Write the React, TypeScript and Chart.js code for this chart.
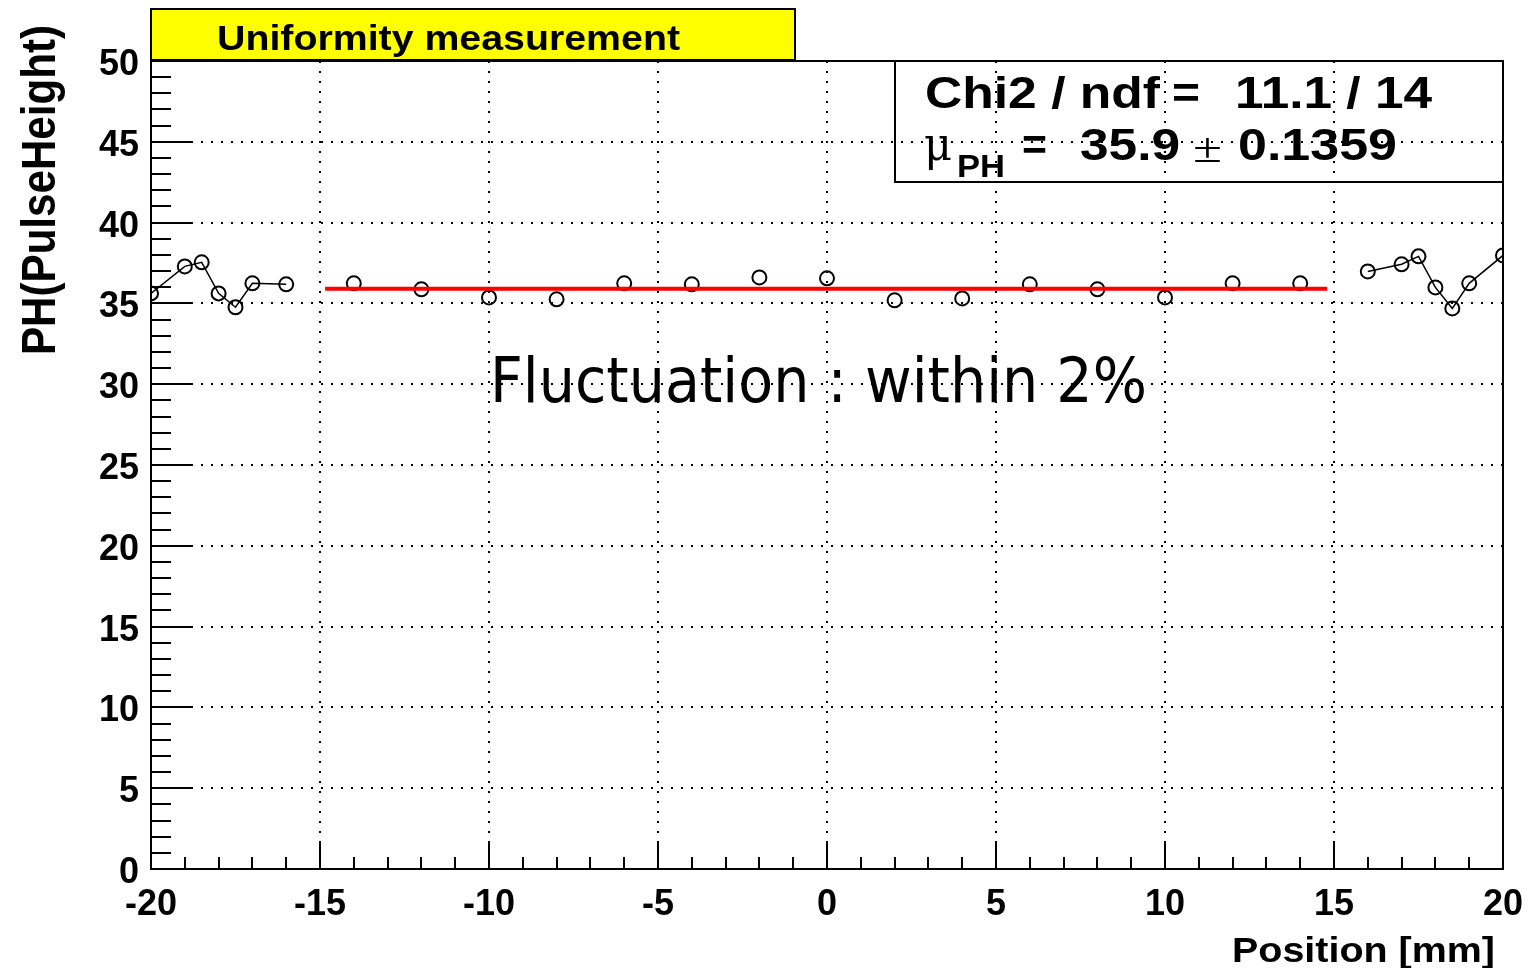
import React, { useEffect, useRef } from 'react';
import { Chart, registerables } from 'chart.js';

Chart.register(...registerables);

// ---- data ----
const leftX = [-20, -19, -18.5, -18, -17.5, -17, -16];
const leftY = [35.62, 37.29, 37.54, 35.62, 34.76, 36.24, 36.18];
const midX = [-14, -12, -10, -8, -6, -4, -2, 0, 2, 4, 6, 8, 10, 12, 14];
const midY = [36.24, 35.87, 35.37, 35.25, 36.24, 36.18, 36.61, 36.55, 35.19, 35.31, 36.18, 35.87, 35.37, 36.24, 36.24];
const rightX = [16, 17, 17.5, 18, 18.5, 19, 20];
const rightY = [36.98, 37.42, 37.91, 35.99, 34.69, 36.24, 37.97];
const fitX = [-14.85, 14.8];
const fitMean = 35.9;

const xMajorTicks = [-20, -15, -10, -5, 0, 5, 10, 15, 20];
const yMajorTicks = [0, 5, 10, 15, 20, 25, 30, 35, 40, 45, 50];
const xMinorStep = 1;
const yMinorStep = 1;

const titleText = 'Uniformity measurement';
const xTitle = 'Position [mm]';
const yTitle = 'PH(PulseHeight)';
const statChiLabel = 'Chi2 / ndf';
const statChiValue = '11.1 / 14';
const statMuValue = '35.9';
const statMuError = '0.1359';
const noteText = 'Fluctuation : within 2%';

const pts = (xs: number[], ys: number[]) => xs.map((x, i) => ({ x, y: ys[i] }));

const SANS = '"Liberation Sans", Arial, sans-serif';

function drawFit(
  ctx: CanvasRenderingContext2D,
  text: string,
  x: number,
  y: number,
  font: string,
  width?: number,
  rotate = 0
) {
  ctx.save();
  ctx.font = font;
  const w = ctx.measureText(text).width;
  const s = width ? width / w : 1;
  ctx.translate(x, y);
  if (rotate) ctx.rotate(rotate);
  ctx.scale(s, 1);
  ctx.textAlign = 'left';
  ctx.textBaseline = 'alphabetic';
  ctx.fillStyle = '#000';
  ctx.fillText(text, 0, 0);
  ctx.restore();
}

const rootPlugin = {
  id: 'rootStyle',
  beforeDatasetsDraw(chart: any) {
    const { ctx, chartArea: a, scales } = chart;
    const xs = scales.x;
    const ys = scales.y;
    ctx.save();
    ctx.strokeStyle = '#000';
    ctx.lineWidth = 2;
    ctx.beginPath();
    const xMin = xMajorTicks[0];
    const xMax = xMajorTicks[xMajorTicks.length - 1];
    for (let v = xMin; v <= xMax + 1e-9; v += xMinorStep) {
      const px = Math.round(xs.getPixelForValue(v));
      const major = xMajorTicks.includes(v);
      const len = major ? 27 : 12;
      ctx.moveTo(px, a.bottom);
      ctx.lineTo(px, a.bottom - len);
    }
    const yMin = yMajorTicks[0];
    const yMax = yMajorTicks[yMajorTicks.length - 1];
    for (let v = yMin; v <= yMax + 1e-9; v += yMinorStep) {
      const py = Math.round(ys.getPixelForValue(v));
      const major = yMajorTicks.includes(v);
      const len = major ? 41 : 20;
      ctx.moveTo(a.left, py);
      ctx.lineTo(a.left + len, py);
    }
    ctx.stroke();
    ctx.strokeRect(a.left, a.top, a.right - a.left, a.bottom - a.top);
    ctx.restore();
  },
  afterDraw(chart: any) {
    const { ctx, chartArea: a } = chart;
    ctx.save();
    // title box
    ctx.fillStyle = '#ffff00';
    ctx.fillRect(a.left, 9, 795 - a.left, 51);
    ctx.strokeStyle = '#000';
    ctx.lineWidth = 2;
    ctx.strokeRect(a.left, 9, 795 - a.left, 51);
    drawFit(ctx, titleText, 217, 50, `bold 35px ${SANS}`, 463);

    // stats box
    ctx.strokeRect(895, a.top, a.right - 895, 121);
    drawFit(ctx, statChiLabel, 925, 108, `bold 44px ${SANS}`, 235);
    drawFit(ctx, '=', 1172, 108, `bold 44px ${SANS}`, 28);
    drawFit(ctx, statChiValue, 1235, 108, `bold 44px ${SANS}`, 197);
    drawFit(ctx, '\u03BC', 924, 160, `46px "DejaVu Serif", serif`, 28);
    drawFit(ctx, 'PH', 957, 177, `bold 32px ${SANS}`, 48);
    drawFit(ctx, '=', 1022, 160, `bold 44px ${SANS}`, 25);
    drawFit(ctx, statMuValue, 1080, 160, `bold 44px ${SANS}`, 100);
    drawFit(ctx, '\u00B1', 1193, 162, `42px "Liberation Serif", serif`, 29);
    drawFit(ctx, statMuError, 1238, 160, `bold 44px ${SANS}`, 159);

    // annotation
    drawFit(ctx, noteText, 490, 402, `62px "DejaVu Sans", sans-serif`, 657);

    // axis titles
    drawFit(ctx, xTitle, 1232, 962, `bold 35px ${SANS}`, 263);
    drawFit(ctx, yTitle, 55, 355, `bold 48px ${SANS}`, 330, -Math.PI / 2);
    ctx.restore();
  },
};

export default function App() {
  const ref = useRef<HTMLCanvasElement | null>(null);
  useEffect(() => {
    if (!ref.current) return;
    const marker = {
      pointStyle: 'circle',
      pointRadius: 7,
      pointBorderWidth: 2,
      pointBorderColor: '#000',
      pointBackgroundColor: 'rgba(0,0,0,0)',
      borderColor: '#000',
      borderWidth: 1.5,
    };
    const chart = new Chart(ref.current, {
      type: 'scatter',
      data: {
        datasets: [
          {
            label: 'fit',
            data: pts(fitX, fitX.map(() => fitMean)),
            showLine: true,
            borderColor: '#ff0000',
            borderWidth: 4,
            pointRadius: 0,
          },
          { label: 'left', data: pts(leftX, leftY), showLine: true, ...marker },
          { label: 'mid', data: pts(midX, midY), showLine: false, ...marker },
          { label: 'right', data: pts(rightX, rightY), showLine: true, ...marker },
        ] as any,
      },
      options: {
        animation: false,
        responsive: false,
        devicePixelRatio: 1,
        layout: { padding: { left: 0, right: 25, top: 61, bottom: 0 } },
        plugins: { legend: { display: false }, tooltip: { enabled: false } },
        scales: {
          x: {
            type: 'linear',
            min: -20,
            max: 20,
            afterBuildTicks: (s: any) => {
              s.ticks = xMajorTicks.map((v) => ({ value: v }));
            },
            afterFit: (s: any) => {
              s.height = 99;
              s.paddingLeft = 0;
              s.paddingRight = 0;
            },
            ticks: {
              autoSkip: false,
              maxRotation: 0,
              padding: 14,
              color: '#000',
              font: { family: SANS, size: 36, weight: 'bold' },
            },
            grid: { color: '#000', lineWidth: 2, drawTicks: false },
            border: { display: false, dash: [2, 8] },
          },
          y: {
            type: 'linear',
            min: 0,
            max: 50,
            afterBuildTicks: (s: any) => {
              s.ticks = yMajorTicks.map((v) => ({ value: v }));
            },
            afterFit: (s: any) => {
              s.width = 151;
              s.paddingTop = 0;
              s.paddingBottom = 0;
            },
            ticks: {
              autoSkip: false,
              padding: 12,
              labelOffset: 4,
              color: '#000',
              font: { family: SANS, size: 36, weight: 'bold' },
            },
            grid: { color: '#000', lineWidth: 2, drawTicks: false },
            border: { display: false, dash: [2, 8] },
          },
        },
      } as any,
      plugins: [rootPlugin],
    });
    return () => chart.destroy();
  }, []);
  return (
    <div style={{ position: 'fixed', left: 0, top: 0, width: 1528, height: 968, background: '#fff' }}>
      <canvas ref={ref} width={1528} height={968} style={{ display: 'block' }} />
    </div>
  );
}
